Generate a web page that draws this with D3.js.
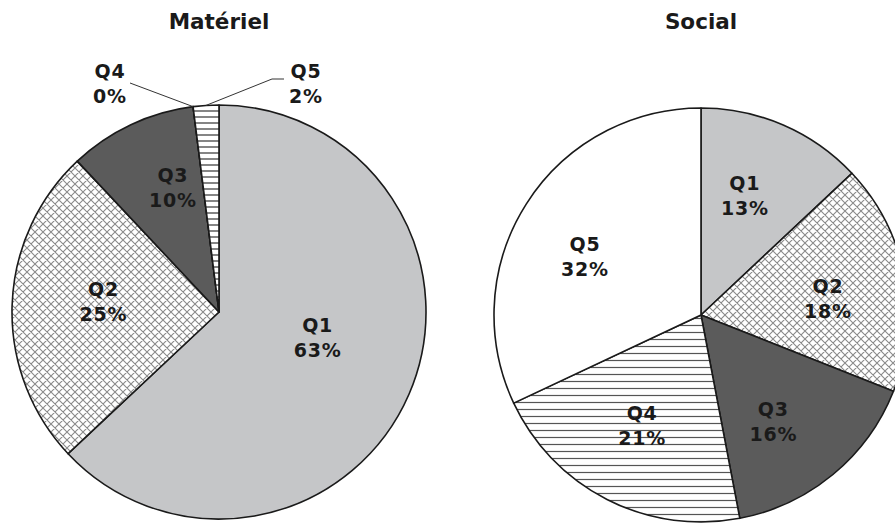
<!DOCTYPE html>
<html>
<head>
<meta charset="utf-8">
<script src="https://cdn.jsdelivr.net/npm/d3@7"></script>
<style>
  html, body { margin: 0; padding: 0; background: #fff; overflow: hidden; }
  svg { display: block; }
  text { font-family: "DejaVu Sans", Verdana, sans-serif; font-weight: bold; fill: #1a1a1a; }
</style>
</head>
<body>
<svg id="chart" width="895" height="523"></svg>
<script>
// Quintile shares (%) for each dimension
const categories = ["Q1", "Q2", "Q3", "Q4", "Q5"];
const materielValues = [63, 25, 10, 0, 2];
const socialValues = [13, 18, 16, 21, 32];
const titles = ["Matériel", "Social"];

// Fill style for each quintile, per chart
const fillSets = [
  ["url(#grey)", "url(#cross)", "#5b5b5b", "url(#hlines)", "url(#hlinesFine)"],
  ["url(#grey)", "url(#cross)", "#5b5b5b", "url(#hlines)", "#ffffff"]
];

const svg = d3.select("#chart");
const defs = svg.append("defs");

// Light grey fill
defs.append("pattern").attr("id", "grey").attr("patternUnits", "userSpaceOnUse")
  .attr("width", 4).attr("height", 4)
  .append("rect").attr("width", 4).attr("height", 4).attr("fill", "#c5c6c8");

// Diagonal crosshatch
const cross = defs.append("pattern").attr("id", "cross").attr("patternUnits", "userSpaceOnUse")
  .attr("width", 8).attr("height", 8);
cross.append("rect").attr("width", 8).attr("height", 8).attr("fill", "#fff");
cross.append("path").attr("d", "M0,0L8,8M8,0L0,8M-1,7L1,9M7,-1L9,1M-1,1L1,-1M7,9L9,7")
  .attr("stroke", "#8a8a8a").attr("stroke-width", 1.1).attr("fill", "none");

// Horizontal lines
function hPattern(id, step, colour) {
  const p = defs.append("pattern").attr("id", id).attr("patternUnits", "userSpaceOnUse")
    .attr("width", 8).attr("height", step);
  p.append("rect").attr("width", 8).attr("height", step).attr("fill", "#fff");
  p.append("line").attr("x1", 0).attr("x2", 8).attr("y1", step / 2).attr("y2", step / 2)
    .attr("stroke", colour).attr("stroke-width", 1.2);
}
hPattern("hlines", 7, "#555");
hPattern("hlinesFine", 6, "#333");

const radius = 207;
const pie = d3.pie().sort(null).value(d => d);
const arc = d3.arc().innerRadius(0).outerRadius(radius);

// Label placement per slice: [distance from centre, angle offset in degrees]
const layouts = [
  { cx: 219, cy: 312, labels: [[102, -8.7], [116, 3.6], [133, 4.9], null, null] },
  { cx: 701, cy: 315, labels: [[127, -3.2], [128, 3.4], [129, 5.5], [125, 1.1], [130, -5.6]] }
];
// Outside labels with leader lines (thin Matériel slices)
const outside = {
  3: { x: 110, points: [[130, 83]] },
  4: { x: 306, points: [[284, 79], [272, 79]] }
};

[materielValues, socialValues].forEach((values, k) => {
  const L = layouts[k];
  const fills = fillSets[k];
  const g = svg.append("g").attr("transform", `translate(${L.cx},${L.cy})`);
  const arcs = pie(values);

  g.selectAll("path.slice").data(arcs).join("path")
    .attr("class", "slice")
    .attr("d", arc)
    .attr("fill", (d, i) => fills[i])
    .attr("stroke", "#1a1a1a")
    .attr("stroke-width", 1.6)
    .attr("stroke-linejoin", "round");

  svg.append("text")
    .attr("x", L.cx).attr("y", 29)
    .attr("text-anchor", "middle")
    .attr("font-size", 21.5)
    .text(titles[k]);

  arcs.forEach((d, i) => {
    const pct = values[i] + "%";
    let x, y, parent;
    if (L.labels[i]) {
      const [r, off] = L.labels[i];
      const a = (d.startAngle + d.endAngle) / 2 + off * Math.PI / 180;
      x = r * Math.sin(a); y = -r * Math.cos(a);
      parent = g;
    } else {
      // Thin slice: label sits above the pie with a leader line to the rim
      const o = outside[i];
      const a = (d.startAngle + d.endAngle) / 2;
      const rim = [L.cx + radius * Math.sin(a), L.cy - radius * Math.cos(a)];
      svg.append("path")
        .attr("d", d3.line()([...o.points, rim]))
        .attr("fill", "none").attr("stroke", "#333").attr("stroke-width", 1);
      x = o.x; y = 83; parent = svg;
    }
    const t = parent.append("text").attr("text-anchor", "middle")
      .attr("font-size", 19).attr("letter-spacing", 0.8);
    t.append("tspan").attr("x", x).attr("y", y - 5.5).text(categories[i]);
    t.append("tspan").attr("x", x).attr("y", y + 19.5).text(pct);
  });
});
</script>
</body>
</html>
